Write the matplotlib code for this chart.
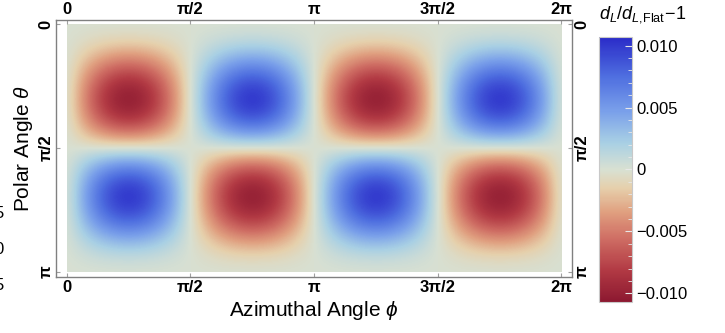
import numpy as np
import matplotlib
matplotlib.use("Agg")
import matplotlib.pyplot as plt
from matplotlib.colors import LinearSegmentedColormap, Normalize
from matplotlib.patches import Rectangle
from matplotlib.ticker import MultipleLocator

plt.rcParams["font.family"] = ["Liberation Sans", "DejaVu Sans"]
plt.rcParams["mathtext.fontset"] = "custom"
plt.rcParams["mathtext.rm"] = "Liberation Sans"
plt.rcParams["mathtext.it"] = "Liberation Sans:italic"
plt.rcParams["mathtext.bf"] = "Liberation Sans:bold"

# profile read along theta (rows, step pi/16) and along phi (columns, step pi/16)
theta_profile = [0.0, 0.097, 0.351, 0.667, 0.919, 0.998, 0.849, 0.488, 0.0,
                 -0.488, -0.849, -0.998, -0.919, -0.667, -0.351, -0.097, 0.0]
phi_profile = [0.0, 0.383, 0.707, 0.924, 1.0, 0.924, 0.707, 0.383,
               0.0, -0.383, -0.707, -0.924, -1.0, -0.924, -0.707, -0.383,
               0.0, 0.383, 0.707, 0.924, 1.0, 0.924, 0.707, 0.383,
               0.0, -0.383, -0.707, -0.924, -1.0, -0.924, -0.707, -0.383, 0.0]
amplitude = -0.0105

x_ticks = [0, np.pi / 2, np.pi, 3 * np.pi / 2, 2 * np.pi]
x_labels = ["0", "π/2", "π", "3π/2", "2π"]
y_ticks = [0, np.pi / 2, np.pi]
y_labels = ["0", "π/2", "π"]
cb_ticks = [0.010, 0.005, 0.0, -0.005, -0.010]
cb_labels = ["0.010", "0.005", "0", "\u22120.005", "\u22120.010"]

cmap_stops = [(0.0, "#8c1830"), (0.12, "#b23a44"), (0.24, "#cf6e64"),
              (0.34, "#e0a080"), (0.43, "#e6d0ac"), (0.5, "#d8e0d2"),
              (0.6, "#a9d0e4"), (0.72, "#7aa0ea"), (0.85, "#4f6fe0"),
              (1.0, "#2a2bc8")]

field = amplitude * np.outer(theta_profile, phi_profile)
dth = np.pi / (len(theta_profile) - 1)
dph = 2 * np.pi / (len(phi_profile) - 1)

cmap = LinearSegmentedColormap.from_list("redblue", cmap_stops)
norm = Normalize(vmin=-0.0107, vmax=0.0107)

fig = plt.figure(figsize=(7.25, 3.33), dpi=100)
ax = fig.add_axes([0.0772, 0.169, 0.7118, 0.7724])

im = ax.imshow(field, cmap=cmap, norm=norm, interpolation="bicubic",
               extent=[-dph / 2, 2 * np.pi + dph / 2, np.pi + dth / 2, -dth / 2],
               origin="upper")
im.set_clip_path(Rectangle((0, 0), 2 * np.pi, np.pi, transform=ax.transData))
ax.set_aspect("auto")
ax.set_xlim(-0.14, 2 * np.pi + 0.14)
ax.set_ylim(np.pi + 0.063, -0.063)

for s in ax.spines.values():
    s.set_color("#808080")
    s.set_linewidth(1.0)

ax.set_xticks(x_ticks)
ax.set_xticklabels(x_labels, fontweight="bold", fontsize=12)
ax.set_yticks(y_ticks)
ax.set_yticklabels(y_labels, fontweight="bold", fontsize=12, rotation=90, va="center")
ax.tick_params(direction="in", length=3, color="#a0a0a0", top=True, right=True,
               labeltop=True, labelright=True, pad=2)
ax.yaxis.set_tick_params(labelrotation=90)
for lab in ax.get_yticklabels(which="both"):
    lab.set_va("center")

ax.set_xlabel(r"Azimuthal Angle $\phi$", fontsize=15, labelpad=3)
ax.set_ylabel(r"Polar Angle $\theta$", fontsize=15, labelpad=2)

cax = fig.add_axes([0.826, 0.093, 0.0455, 0.796])
cb = fig.colorbar(im, cax=cax, ticks=cb_ticks)
cb.ax.set_yticklabels(cb_labels, fontsize=12)
cb.ax.yaxis.set_minor_locator(MultipleLocator(0.001))
cb.ax.tick_params(which="major", direction="in", length=5, color="#e8e8e8", pad=3)
cb.ax.tick_params(which="minor", direction="in", length=3, color="#e8e8e8")
cb.outline.set_edgecolor("#c8c8c8")
cb.outline.set_linewidth(0.8)

fig.text(0.826, 0.955, r"$d_L/d_{L,\!\mathrm{Flat}}\!-\!1$", fontsize=13,
         ha="left", va="center")

# cut-off labels of a neighbouring panel at the left edge
for y_px, t in [(214, "5"), (249, "0"), (286, "5")]:
    fig.text(0.0055, 1 - y_px / 333, t, fontsize=12, ha="right", va="center")

fig.savefig("out.png", dpi=100)
